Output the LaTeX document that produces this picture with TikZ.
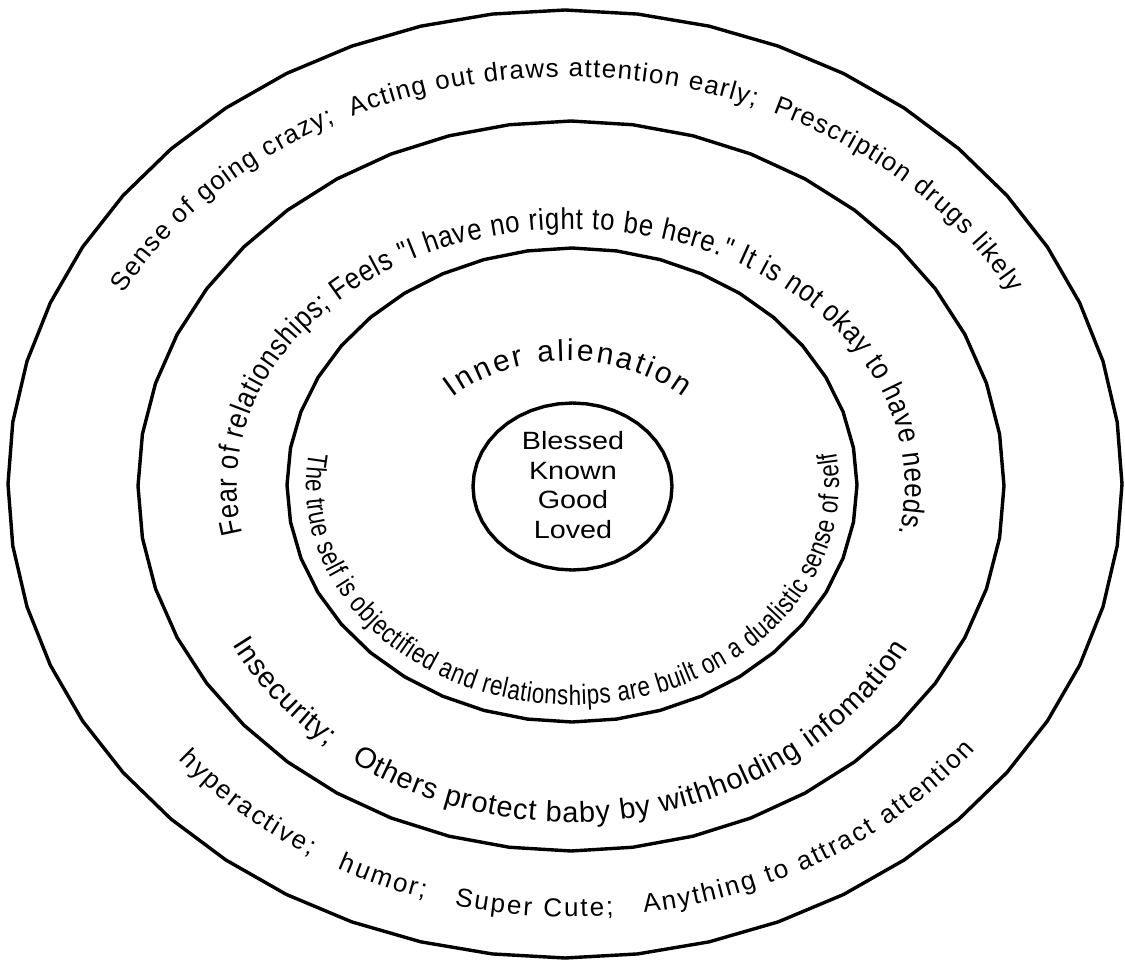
\documentclass[tikz,border=0pt]{standalone}
\usepackage{fontspec}
\setmainfont{Liberation Sans}
\newfontfamily\ringfont{Liberation Sans}
\newfontfamily\ringnarrow{Liberation Sans}[FakeStretch=0.8]
\newfontfamily\ringslim{Liberation Sans}[FakeStretch=0.86]
\newfontfamily\ringwide{Liberation Sans}[FakeStretch=1.15]
\usetikzlibrary{decorations.text,calc}

% type sizes for the ring captions
\newcommand\txtOuter{\ringfont\fontsize{26}{30}\selectfont}
\newcommand\txtUpper{\ringslim\fontsize{30}{34}\selectfont}
\newcommand\txtMiddle{\ringfont\fontsize{29}{33}\selectfont}
\newcommand\txtTitle{\ringfont\fontsize{30}{34}\selectfont}
\newcommand\txtInner{\ringnarrow\fontsize{28}{32}\selectfont}
\newcommand\txtCore{\ringwide\fontsize{25}{29.5}\selectfont}

\begin{document}
\begin{tikzpicture}[x=1pt,y=1pt,
  ring/.style={line width=3.4pt, line join=round},
  ringtext/.style={decorate, decoration={text along path, text align=fit to path}}]

\useasboundingbox (0,0) rectangle (1125,-960);
\fill[white] (0,0) rectangle (1125,-960);

% the four nested rings, drawn as many-sided polygons
\draw[ring] plot[samples=49, domain=0:360] ({565+557*cos(\x)},{-484+474*sin(\x)}) -- cycle;
\draw[ring] plot[samples=45, domain=0:360] ({571+433*cos(\x)},{-486+365*sin(\x)}) -- cycle;
\draw[ring] plot[samples=41, domain=0:360] ({572+285*cos(\x)},{-485+237*sin(\x)}) -- cycle;
\draw[ring] plot[samples=45, domain=0:360] ({572.5+99.5*cos(\x)},{-486.5+83.5*sin(\x)}) -- cycle;

% centre
\node[font=\txtCore, align=center, inner sep=0pt] (core) at (573,-485) {Blessed\\Known\\Good\\Loved};

% outer band, upper arc
\path[ringtext, decoration={text={|\txtOuter|Sense of going crazy;{\ }{\ }Acting out draws attention early;{\ }{\ }Prescription drugs likely}}]
  ($(567,-485)+(152:502pt and 408pt)$) arc[start angle=152, end angle=28, x radius=502pt, y radius=408pt];

% outer band, lower arc
\path[ringtext, decoration={text={|\txtOuter|hyperactive;{\ }{\ }{\ }humor;{\ }{\ }{\ }Super Cute;{\ }{\ }{\ }Anything to attract attention}}]
  ($(572,-485)+(219.5:510pt and 432pt)$) arc[start angle=219.5, end angle=322.2, x radius=510pt, y radius=432pt];

% middle band, upper arc
\path[ringtext, decoration={text={|\txtUpper|Fear of relationships; Feels "I have no right to be here." It is not okay to have needs.}}]
  ($(571,-485)+(191:334pt and 256pt)$) arc[start angle=191, end angle=-11, x radius=334pt, y radius=256pt];

% middle band, lower arc
\path[ringtext, decoration={text={|\txtMiddle|Insecurity;{\ }{\ }{\ }Others protect baby by withholding infomation}}]
  ($(571,-485)+(208.3:385pt and 337pt)$) arc[start angle=208.3, end angle=331.1, x radius=385pt, y radius=337pt];

% inner band, title
\path[ringtext, decoration={text={|\txtTitle|Inner alienation}}]
  ($(568,-485)+(135:163pt and 124pt)$) arc[start angle=135, end angle=45, x radius=163pt, y radius=124pt];

% inner band, lower arc
\path[ringtext, decoration={text={|\txtInner|The true self is objectified and relationships are built on a dualistic sense of self}}]
  ($(572.5,-485)+(171.4:266.5pt and 220pt)$) arc[start angle=171.4, end angle=368.6, x radius=266.5pt, y radius=220pt];

\end{tikzpicture}
\end{document}
